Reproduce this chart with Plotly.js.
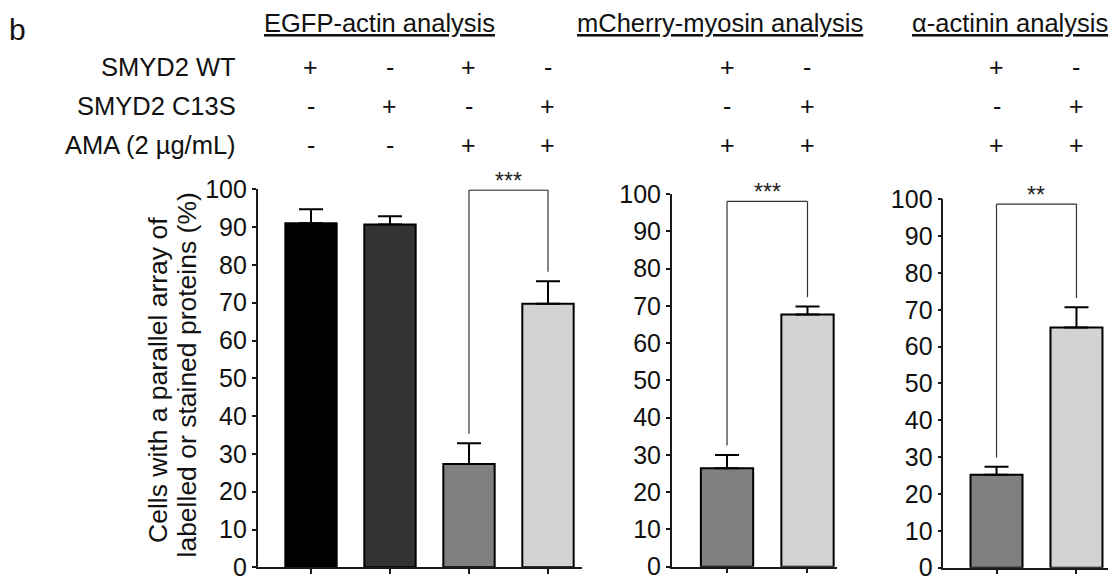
<!DOCTYPE html>
<html><head><meta charset="utf-8">
<script src="https://cdn.plot.ly/plotly-3.0.1.min.js"></script>
<style>html,body{margin:0;padding:0;background:#fff}#chart{width:1114px;height:580px}</style>
</head><body><div id="chart"></div>
<script>
// ---------- data ----------
const rowLabels = ['SMYD2 WT', 'SMYD2 C13S', 'AMA (2 µg/mL)'];
const panelTitles = ['EGFP-actin analysis', 'mCherry-myosin analysis', 'α-actinin analysis'];
const yTitleLines = ['Cells with a parallel array of', 'labelled or stained proteins (%)'];

const egfpGroups = ['WT', 'C13S', 'WT + AMA', 'C13S + AMA'];
const egfpMeans = [91.0, 90.7, 27.3, 69.7];
const egfpErrors = [3.7, 2.2, 5.5, 6.0];
const egfpSigns = [['+', '-', '+', '-'], ['-', '+', '-', '+'], ['-', '-', '+', '+']];

const myosinGroups = ['WT + AMA', 'C13S + AMA'];
const myosinMeans = [26.4, 67.7];
const myosinErrors = [3.6, 2.1];
const myosinSigns = [['+', '-'], ['-', '+'], ['+', '+']];

const actininGroups = ['WT + AMA', 'C13S + AMA'];
const actininMeans = [25.2, 65.2];
const actininErrors = [2.2, 5.5];
const actininSigns = [['+', '-'], ['-', '+'], ['+', '+']];

const significance = ['***', '***', '**'];
const comparedPairs = [[2, 3], [0, 1], [0, 1]];

// ---------- styling / layout ----------
const FONT = 'Liberation Sans, Arial, Helvetica, sans-serif';
const TXT = '#111111';
const egfpColors = ['#000000', '#333333', '#808080', '#d3d3d3'];
const pairColors = ['#808080', '#d3d3d3'];

const panels = [
  {id: '', groups: egfpGroups, means: egfpMeans, errors: egfpErrors, signs: egfpSigns, colors: egfpColors,
   xdom: [0.2313, 0.5222], ydom: [0.0219, 0.6736], xrange: [-0.675, 3.427], titleX: 0.3411, bracketTop: 99.8},
  {id: '2', groups: myosinGroups, means: myosinMeans, errors: myosinErrors, signs: myosinSigns, colors: pairColors,
   xdom: [0.6030, 0.7513], ydom: [0.0229, 0.6655], xrange: [-0.687, 1.366], titleX: 0.6463, bracketTop: 98.0},
  {id: '3', groups: actininGroups, means: actininMeans, errors: actininErrors, signs: actininSigns, colors: pairColors,
   xdom: [0.8468, 0.9946], ydom: [0.0212, 0.6564], xrange: [-0.665, 1.394], titleX: 0.9062, bracketTop: 98.7}
];
const rowY = [0.8845, 0.8172, 0.75];
const legGap = 2.5;

const traces = [];
const shapes = [];
const annotations = [];
const layout = {
  width: 1114, height: 580,
  margin: {l: 0, r: 0, t: 0, b: 0},
  paper_bgcolor: '#ffffff', plot_bgcolor: '#ffffff',
  showlegend: false,
  font: {family: FONT, color: TXT, size: 22}
};

panels.forEach((p, k) => {
  const xa = 'x' + p.id, ya = 'y' + p.id;
  traces.push({
    type: 'bar', x: p.groups, y: p.means, xaxis: xa, yaxis: ya, width: 0.65,
    marker: {color: p.colors, line: {color: '#000000', width: 2}},
    error_y: {type: 'data', symmetric: false, array: p.errors, arrayminus: p.errors.map(() => 0),
              width: 12, thickness: 2, color: '#000000'},
    hoverinfo: 'x+y'
  });
  layout['xaxis' + p.id] = {
    domain: p.xdom, anchor: ya, range: p.xrange, type: 'category',
    showline: true, linecolor: '#1a1a1a', linewidth: 1.5,
    ticks: 'outside', ticklen: 5, tickwidth: 1.5, tickcolor: '#1a1a1a',
    showticklabels: false, showgrid: false, zeroline: false, fixedrange: true
  };
  layout['yaxis' + p.id] = {
    domain: p.ydom, anchor: xa, range: [0, 100], dtick: 10,
    showline: true, linecolor: '#1a1a1a', linewidth: 1.5,
    ticks: 'outside', ticklen: 4, tickwidth: 1.5, tickcolor: '#1a1a1a',
    tickfont: {size: 25, family: FONT, color: TXT}, ticklabeloverflow: 'allow',
    showgrid: false, zeroline: false, fixedrange: true
  };

  // panel title
  annotations.push({xref: 'paper', yref: 'paper', x: p.titleX, y: 0.9603, xanchor: 'center', yanchor: 'middle',
    text: '<u>' + panelTitles[k] + '</u>', showarrow: false, font: {size: 25.5, family: FONT, color: TXT}});

  // +/- condition rows
  p.signs.forEach((row, r) => {
    row.forEach((s, c) => {
      annotations.push({xref: xa, yref: 'paper', x: c, y: rowY[r], xanchor: 'center', yanchor: 'middle',
        text: s, showarrow: false, font: {size: 25, family: FONT, color: TXT}});
    });
  });

  // significance bracket
  const [a, b] = comparedPairs[k];
  const ya0 = p.means[a] + p.errors[a] + legGap;
  const yb0 = p.means[b] + p.errors[b] + legGap;
  const line = {color: '#333333', width: 1.2};
  shapes.push({type: 'line', xref: xa, yref: ya, x0: a, x1: a, y0: ya0, y1: p.bracketTop, line: line});
  shapes.push({type: 'line', xref: xa, yref: ya, x0: a, x1: b, y0: p.bracketTop, y1: p.bracketTop, line: line});
  shapes.push({type: 'line', xref: xa, yref: ya, x0: b, x1: b, y0: p.bracketTop, y1: yb0, line: line});
  annotations.push({xref: xa, yref: ya, x: (a + b) / 2, y: p.bracketTop, xanchor: 'center', yanchor: 'bottom',
    yshift: -6, text: significance[k], showarrow: false, font: {size: 23, family: FONT, color: '#222222'}});
});

// y-axis title (two rotated lines)
const yTitlePos = [[158, 380], [186.5, 375]];
yTitleLines.forEach((t, i) => {
  annotations.push({xref: 'paper', yref: 'paper', x: yTitlePos[i][0] / 1114, y: 1 - yTitlePos[i][1] / 580,
    xanchor: 'center', yanchor: 'middle', textangle: -90, text: t, showarrow: false,
    font: {size: 26.5, family: FONT, color: TXT}});
});

// row labels
rowLabels.forEach((t, r) => {
  annotations.push({xref: 'paper', yref: 'paper', x: 0.2136, y: rowY[r], xanchor: 'right', yanchor: 'middle',
    text: t, showarrow: false, font: {size: 25.5, family: FONT, color: TXT}});
});
// panel letter
annotations.push({xref: 'paper', yref: 'paper', x: 0.0153, y: 0.95, xanchor: 'center', yanchor: 'middle',
  text: 'b', showarrow: false, font: {size: 30, family: FONT, color: TXT}});

layout.shapes = shapes;
layout.annotations = annotations;

Plotly.newPlot('chart', traces, layout, {displayModeBar: false});
</script>
</body></html>
